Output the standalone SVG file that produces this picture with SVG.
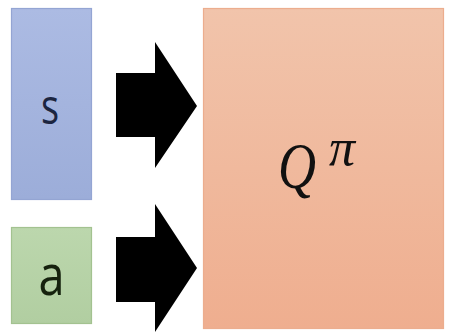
<svg xmlns="http://www.w3.org/2000/svg" width="450" height="332" viewBox="0 0 450 332">
<defs>
<linearGradient id="gs" x1="0" y1="0" x2="0" y2="1"><stop offset="0" stop-color="#acbbe3"/><stop offset="1" stop-color="#9cadd9"/></linearGradient>
<linearGradient id="ga" x1="0" y1="0" x2="0" y2="1"><stop offset="0" stop-color="#bcd7ad"/><stop offset="1" stop-color="#b1cea1"/></linearGradient>
<linearGradient id="gq" x1="0" y1="0" x2="0" y2="1"><stop offset="0" stop-color="#f1c4ab"/><stop offset="1" stop-color="#efae8f"/></linearGradient>
<style>
.lbl{font-family:"Open Sans","Liberation Sans",sans-serif;}
.math{font-family:"Liberation Serif","DejaVu Serif",serif;font-style:italic;fill:#111;}
.arrow{fill:#000;}
</style>
</defs>
<rect width="450" height="332" fill="#ffffff"/>
<g id="node-s">
<rect x="11.5" y="8.5" width="80" height="191" fill="url(#gs)" stroke="#94a5d3" stroke-width="1.2"/>
<text class="lbl" transform="translate(50,124) scale(0.76,1)" text-anchor="middle" font-size="50" fill="#1c2540">s</text>
</g>
<g id="node-a">
<rect x="11.5" y="227.5" width="80" height="96" fill="url(#ga)" stroke="#a3c290" stroke-width="1.2"/>
<text class="lbl" transform="translate(51.5,295) scale(0.84,1)" text-anchor="middle" font-size="56" fill="#16220e">a</text>
</g>
<g id="node-q">
<rect x="203.5" y="8.5" width="240" height="320" fill="url(#gq)" stroke="#ecad8e" stroke-width="1.2"/>
<text class="math" transform="translate(297,188) scale(0.81,1)" text-anchor="middle" font-size="65">Q</text>
<text class="math" x="342" y="165" text-anchor="middle" font-size="52">π</text>
</g>
<g id="connectors">
<polygon class="arrow" points="116,73 155,73 155,42 197,106 155,168 155,137 116,137"/>
<polygon class="arrow" points="116,237 155,237 155,204 197,268 155,332 155,302 116,302"/>
</g>
</svg>
